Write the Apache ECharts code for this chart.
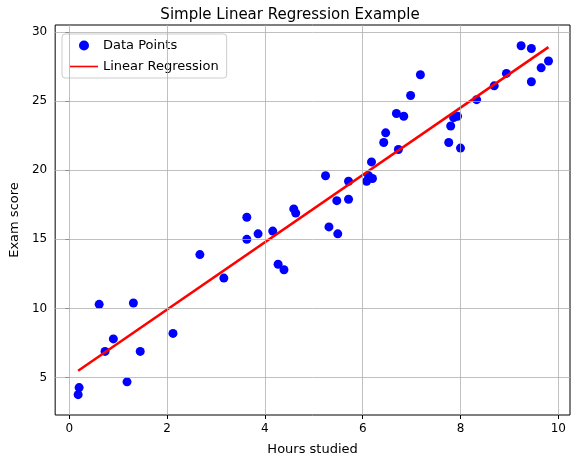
<!DOCTYPE html>
<html><head><meta charset="utf-8">
<script src="https://cdn.jsdelivr.net/npm/echarts@6/dist/echarts.min.js"></script>
<style>html,body{margin:0;padding:0;background:#fff}#c{width:580px;height:465px}</style>
</head><body><div id="c"></div>
<script>
const hours=[0.2,0.18,0.61,0.73,0.9,1.18,1.31,1.45,2.12,2.67,3.16,3.63,3.63,3.86,4.16,4.27,4.39,4.59,4.63,5.24,5.31,5.47,5.49,5.71,5.71,6.08,6.12,6.18,6.2,6.43,6.47,6.69,6.73,6.84,6.98,7.18,7.76,7.8,7.86,7.94,8.0,8.33,8.69,8.94,9.24,9.45,9.45,9.65,9.8];
const scores=[4.28,3.77,10.3,6.9,7.8,4.7,10.4,6.9,8.2,13.9,12.2,16.6,15.0,15.4,15.6,13.2,12.8,17.2,16.9,19.6,15.9,17.8,15.4,19.2,17.9,19.2,19.6,20.6,19.4,22.0,22.7,24.1,21.5,23.9,25.4,26.9,22.0,23.2,23.8,23.9,21.6,25.1,26.1,27.0,29.0,28.8,26.4,27.4,27.9];
const lineX=[0.18,9.8];
const lineY=[5.5,28.9];
const xTicks=[0,2,4,6,8,10];
const yTicks=[5,10,15,20,25,30];
const font='DejaVu Sans';
const chart=echarts.init(document.getElementById('c'));
const gridLines=[...xTicks.map(v=>({xAxis:v})),...yTicks.map(v=>({yAxis:v}))];
chart.setOption({
 animation:false,
 textStyle:{fontFamily:font},
 title:{text:'Simple Linear Regression Example',left:'center',top:3,textStyle:{fontFamily:font,fontSize:15,fontWeight:'normal',color:'#000'}},
 grid:{left:54,right:10,top:25,bottom:50,show:true,borderColor:'#000',borderWidth:1},
 legend:{left:62,top:34,orient:'vertical',itemGap:8,itemWidth:28,itemHeight:10,
   backgroundColor:'rgba(255,255,255,0.85)',borderColor:'#ccc',borderWidth:1,borderRadius:3,padding:[5,8],
   textStyle:{fontFamily:font,fontSize:13,color:'#000'},
   data:[{name:'Data Points',icon:'circle'},{name:'Linear Regression',icon:'path://M0,4.2L28,4.2L28,5.8L0,5.8Z'}]},
 xAxis:{type:'value',min:-0.29,max:10.24,name:'Hours studied',nameLocation:'middle',nameGap:28,
   nameTextStyle:{fontFamily:font,fontSize:13,color:'#000'},
   axisLine:{show:false},splitLine:{show:false},
   axisTick:{show:true,customValues:xTicks,length:4,lineStyle:{color:'#000'}},
   axisLabel:{customValues:xTicks,color:'#000',fontSize:12,fontFamily:font}},
 yAxis:{type:'value',min:2.3,max:30.5,name:'Exam score',nameLocation:'middle',nameGap:32,
   nameTextStyle:{fontFamily:font,fontSize:13,color:'#000'},
   axisLine:{show:false},splitLine:{show:false},
   axisTick:{show:true,customValues:yTicks,length:4,lineStyle:{color:'#000'}},
   axisLabel:{customValues:yTicks,color:'#000',fontSize:12,fontFamily:font}},
 series:[
  {type:'line',data:[],silent:true,markLine:{silent:true,symbol:'none',label:{show:false},
    lineStyle:{color:'#b0b0b0',width:0.8,type:'solid'},data:gridLines},z:0},
  {name:'Data Points',type:'scatter',symbolSize:9,itemStyle:{color:'#0000ff',opacity:1},
    data:hours.map((h,i)=>[h,scores[i]]),z:3},
  {name:'Linear Regression',type:'line',symbol:'none',lineStyle:{color:'#ff0000',width:2.5},itemStyle:{color:'#ff0000'},
    data:lineX.map((x,i)=>[x,lineY[i]]),z:4}
 ]
});
</script></body></html>
